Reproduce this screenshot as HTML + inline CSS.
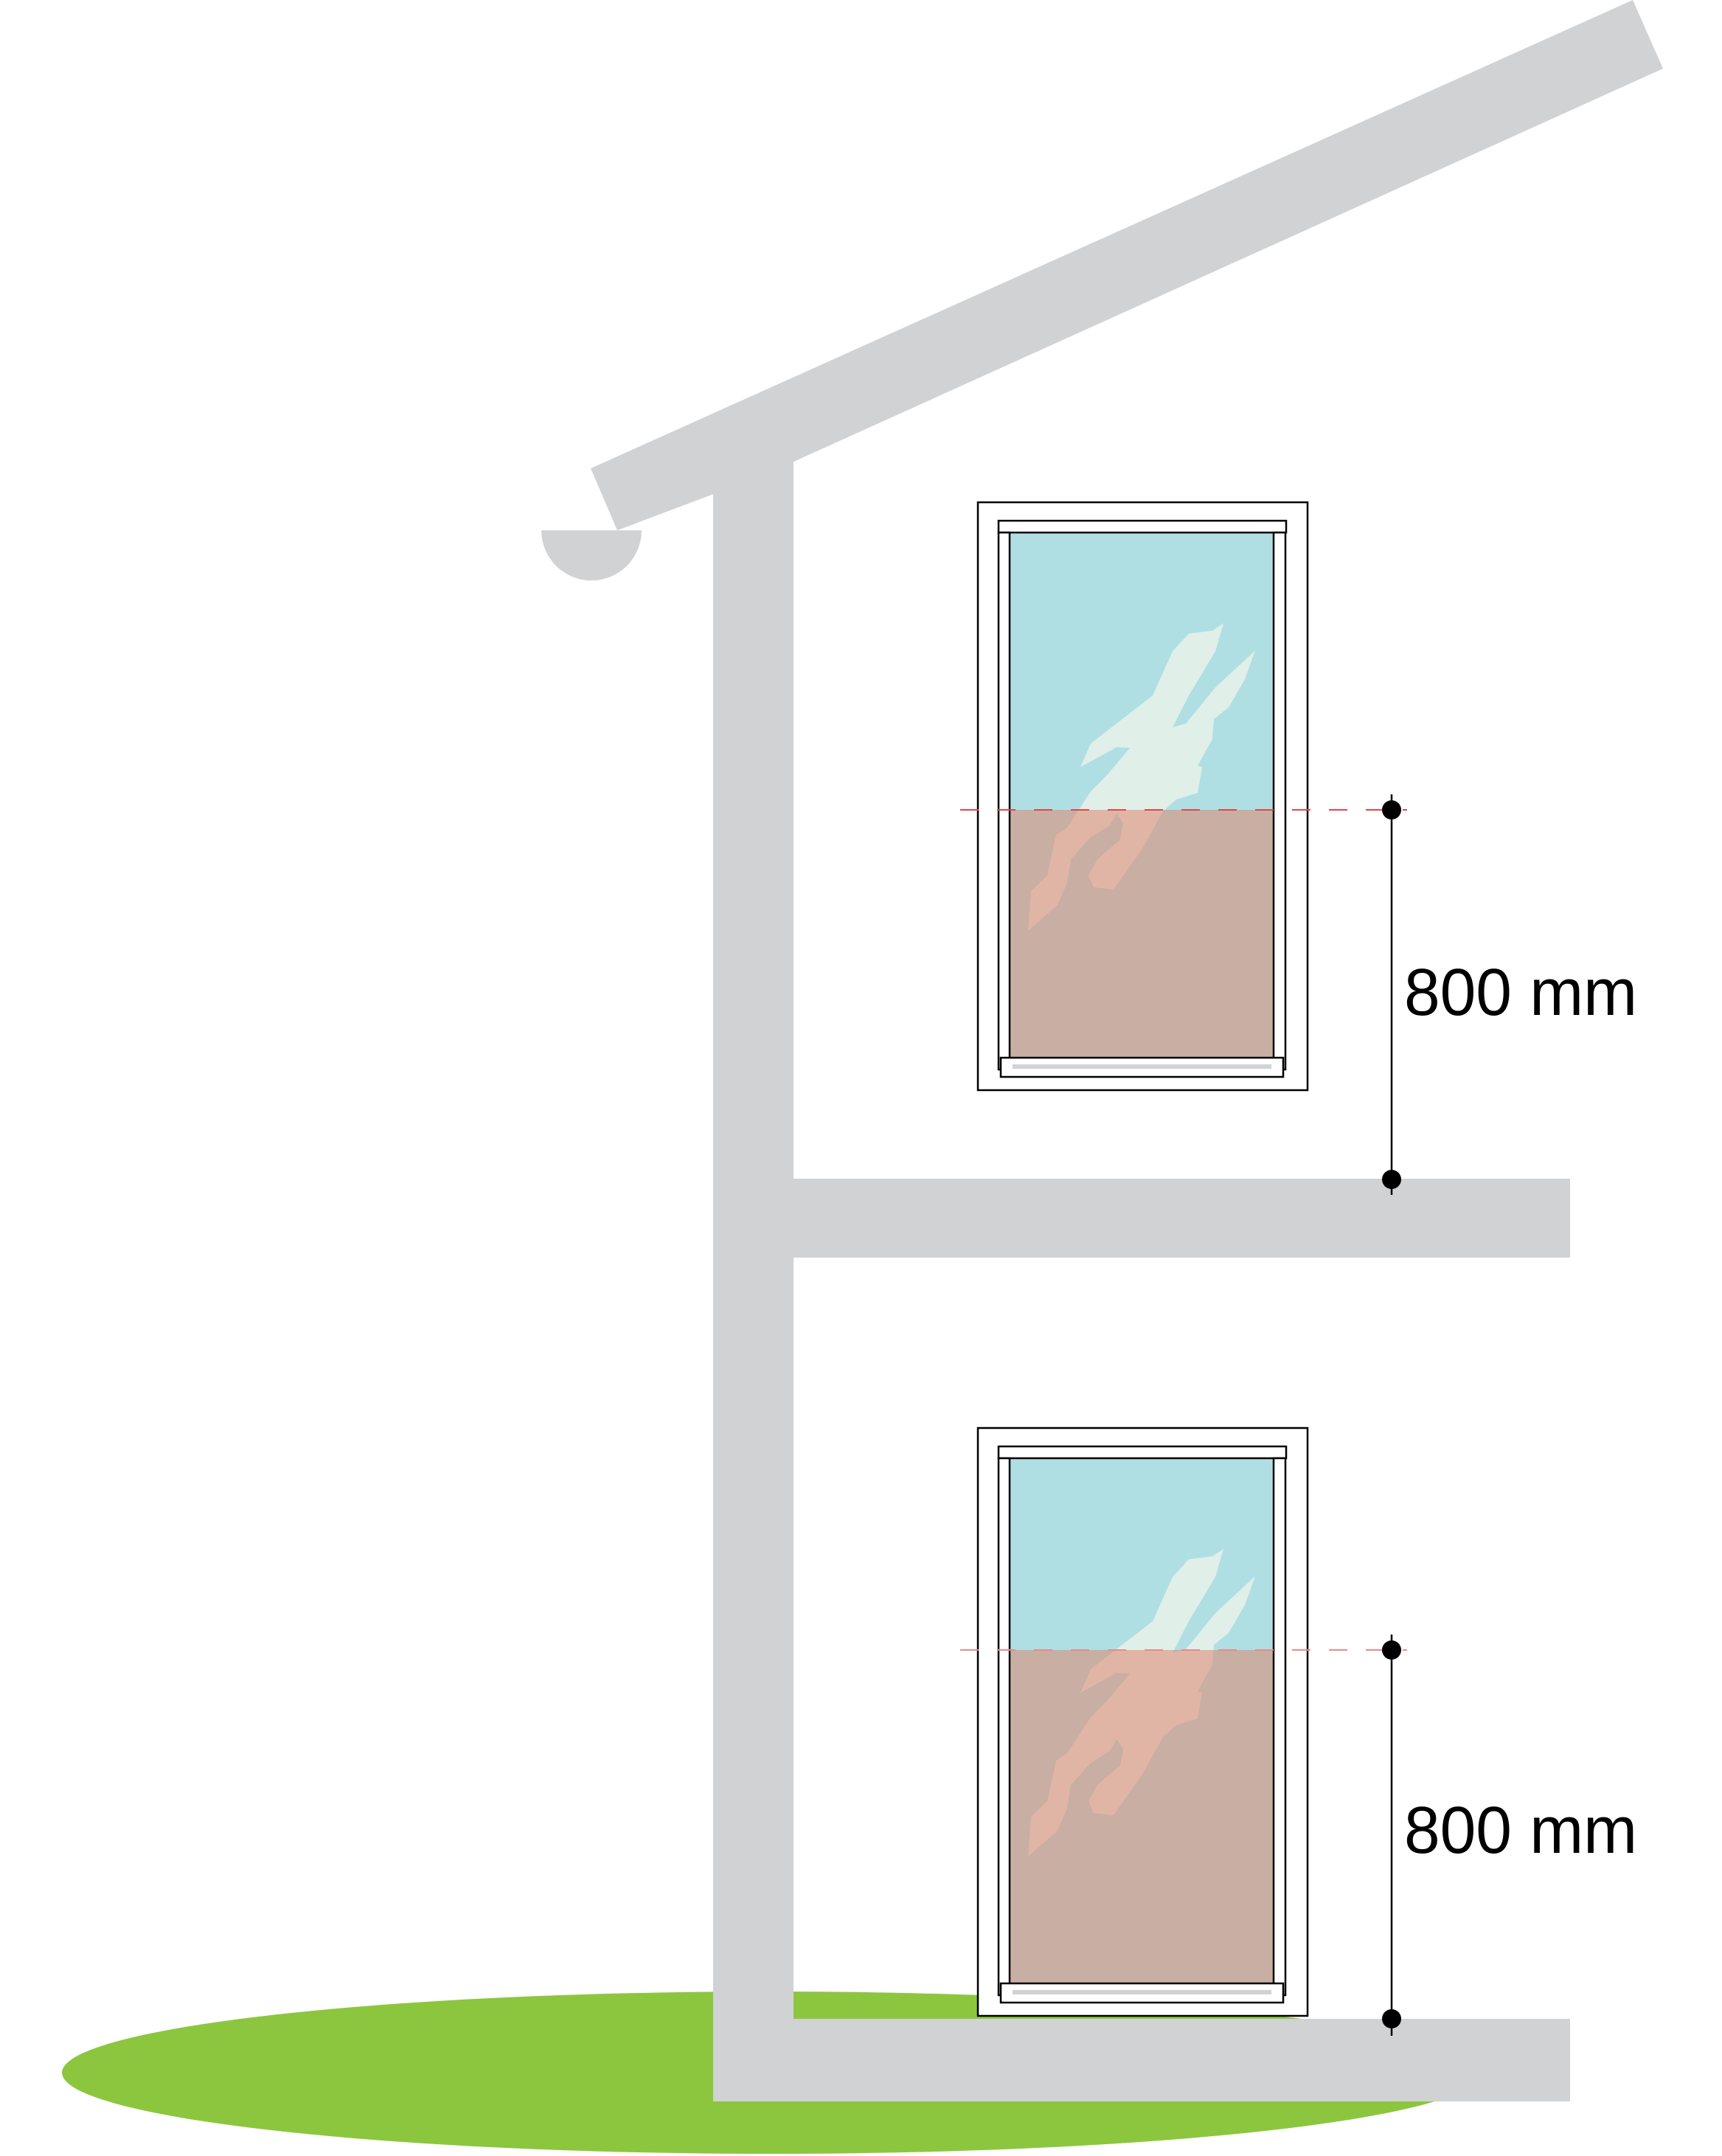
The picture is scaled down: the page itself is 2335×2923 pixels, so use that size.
<!DOCTYPE html>
<html><head><meta charset="utf-8"><style>html,body{margin:0;padding:0;background:#fff}svg{display:block}</style></head>
<body>
<svg width="2335" height="2923" viewBox="0 0 2335 2923" xmlns="http://www.w3.org/2000/svg">
<defs>
<clipPath id="top1"><rect x="1369" y="722" width="358" height="376"/></clipPath>
<clipPath id="bot1"><rect x="1369" y="1098" width="358" height="336"/></clipPath>
<clipPath id="top2b"><rect x="1369" y="722" width="358" height="260"/></clipPath>
<clipPath id="bot2b"><rect x="1369" y="982" width="358" height="452"/></clipPath>
<path id="ghost" d="M1465,1040 L1479,1008 L1563,943 L1590,883 L1612,859 L1644,855 L1659,845 L1648,883 L1612,943 L1590,986 L1608,981 L1648,932 L1702,882 L1688,921 L1666,959 L1646,975 L1644,1002 L1624,1038 L1630,1040 L1624,1075 L1595,1084 L1577,1100 L1550,1149 L1510,1206 L1483,1203 L1476,1187 L1488,1165 L1519,1138 L1523,1116 L1514,1103 L1505,1119 L1479,1135 L1452,1165 L1447,1197 L1434,1227 L1394,1262 L1398,1208 L1420,1187 L1432,1132 L1447,1122 L1479,1073 L1501,1051 L1532,1014 L1514,1013 Z" stroke-linejoin="round"/>
</defs>
<ellipse cx="1046" cy="2810" rx="962" ry="110" fill="#8cc63f"/>
<polygon points="801,635 2214,0 2255,93 1076,626 1076,640 967,690 967,670 837,719" fill="#d1d2d4"/>
<path d="M734,719 A68,68 0 0 0 870,719 Z" fill="#d1d2d4"/>
<rect x="967" y="620" width="109" height="2229" fill="#d1d2d4"/>
<rect x="1076" y="1598" width="1053" height="107" fill="#d1d2d4"/>
<rect x="967" y="2737" width="1162" height="112" fill="#d1d2d4"/>

<g>
<rect x="1326" y="681" width="447" height="797" fill="#fff" stroke="#000" stroke-width="2.5"/>
<rect x="1369" y="722" width="358" height="376" fill="#afdfe3"/>
<rect x="1369" y="1098" width="358" height="336" fill="#c8aea3"/>
<use href="#ghost" fill="#e0efe8" clip-path="url(#top1)"/>
<use href="#ghost" fill="#e0b5a5" clip-path="url(#bot1)"/>
<rect x="1354" y="706" width="390" height="16" fill="#fff" stroke="#000" stroke-width="2.5"/>
<rect x="1354" y="722" width="15" height="728" fill="#fff" stroke="#000" stroke-width="2.5"/>
<rect x="1727" y="722" width="16" height="728" fill="#fff" stroke="#000" stroke-width="2.5"/>
<rect x="1357" y="1434" width="383" height="26" fill="#fff" stroke="#000" stroke-width="2.5"/>
<rect x="1373" y="1443" width="351" height="6" fill="#d1d2d4"/>
</g>
<line x1="1302" y1="1098" x2="1908" y2="1098" stroke="#e0474c" stroke-width="2" stroke-dasharray="25,25"/>
<line x1="1887" y1="1077" x2="1887" y2="1620" stroke="#000" stroke-width="2.5"/>
<circle cx="1887" cy="1098" r="13" fill="#000"/>
<circle cx="1887" cy="1599" r="13" fill="#000"/>
<text x="1904" y="1376" font-family="Liberation Sans, sans-serif" font-size="90" textLength="316" lengthAdjust="spacingAndGlyphs" fill="#000">800 mm</text>

<g>
<rect x="1326" y="1936" width="447" height="797" fill="#fff" stroke="#000" stroke-width="2.5"/>
<rect x="1369" y="1977" width="358" height="260" fill="#afdfe3"/>
<rect x="1369" y="2237" width="358" height="452" fill="#c8aea3"/>
<g transform="translate(0,1255)">
<use href="#ghost" fill="#e0efe8" clip-path="url(#top2b)"/>
<use href="#ghost" fill="#e0b5a5" clip-path="url(#bot2b)"/>
</g>
<rect x="1354" y="1961" width="390" height="16" fill="#fff" stroke="#000" stroke-width="2.5"/>
<rect x="1354" y="1977" width="15" height="728" fill="#fff" stroke="#000" stroke-width="2.5"/>
<rect x="1727" y="1977" width="16" height="728" fill="#fff" stroke="#000" stroke-width="2.5"/>
<rect x="1357" y="2689" width="383" height="26" fill="#fff" stroke="#000" stroke-width="2.5"/>
<rect x="1373" y="2698" width="351" height="6" fill="#d1d2d4"/>
</g>
<line x1="1302" y1="2237" x2="1908" y2="2237" stroke="#e88a8d" stroke-width="2" stroke-dasharray="25,25"/>
<line x1="1887" y1="2216" x2="1887" y2="2760" stroke="#000" stroke-width="2.5"/>
<circle cx="1887" cy="2237" r="13" fill="#000"/>
<circle cx="1887" cy="2737" r="13" fill="#000"/>
<text x="1904" y="2512" font-family="Liberation Sans, sans-serif" font-size="90" textLength="316" lengthAdjust="spacingAndGlyphs" fill="#000">800 mm</text>
</svg>
</body></html>
